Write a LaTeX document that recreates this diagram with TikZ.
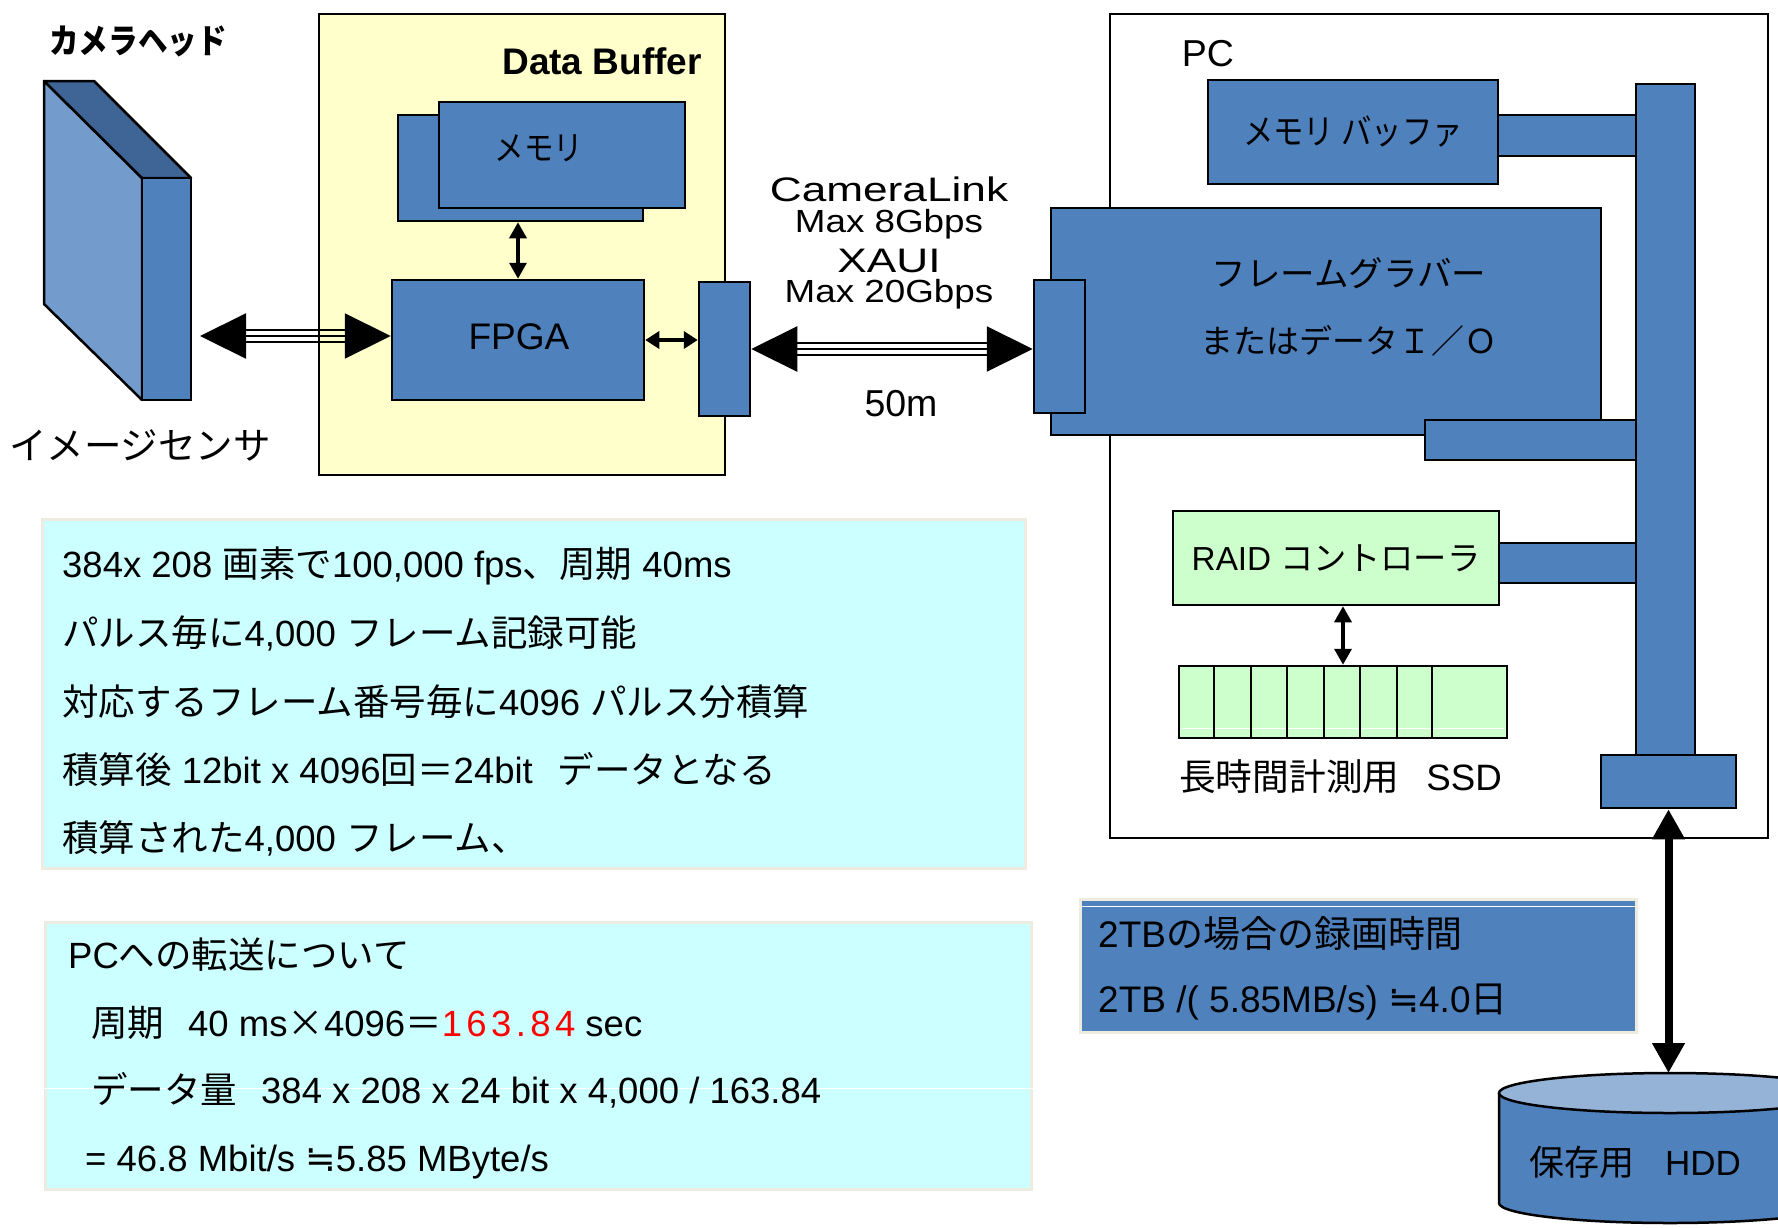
\documentclass[tikz,border=0pt]{standalone}
\usepackage{fontspec}
\setmainfont{Liberation Sans}
\newfontfamily\jp{Noto Sans CJK JP}
\newfontfamily\jpn[FakeStretch=0.87]{Noto Sans CJK JP}
\newfontfamily\sym{DejaVu Sans}
\newfontfamily\wideA[FakeStretch=1.3]{Liberation Sans}
\newfontfamily\wideB[FakeStretch=1.15]{Liberation Sans}
\newfontfamily\spaced[LetterSpace=12]{Liberation Sans}
\usetikzlibrary{arrows.meta}

\definecolor{blu}{HTML}{4F81BD}
\definecolor{bludark}{HTML}{3E6596}
\definecolor{blulight}{HTML}{739BCC}
\definecolor{bluhdd}{HTML}{95B3D7}
\definecolor{buf}{HTML}{FFFFCC}
\definecolor{grn}{HTML}{CCFFCC}
\definecolor{cyn}{HTML}{CCFFFF}
\definecolor{edge}{HTML}{EEECE1}

\newcommand\fsz[1]{\fontsize{#1}{#1}\selectfont}
\newcommand\J[1]{{\jp #1}}
\newcommand\approxeq{{\sym ≒}}

\tikzset{
  blk/.style={draw=black, line width=2.5pt, fill=blu, inner sep=0pt},
  pale/.style={draw=black, line width=2.5pt, fill=grn, inner sep=0pt},
  note/.style={draw=edge, line width=3pt, inner sep=0pt},
  txt/.style={inner sep=0pt, text=black},
  line/.style={anchor=base west, inner sep=0pt, font=\fsz{36.5}},
  small2/.style={line width=3.5pt, {Triangle[length=16pt,width=17pt]}-{Triangle[length=16pt,width=17pt]}},
  cable/.style={line width=2.2pt, {Triangle[length=46pt,width=45pt]}-{Triangle[length=46pt,width=45pt]}},
  cableside/.style={line width=2.2pt, shorten <=40pt, shorten >=40pt},
  hddlink/.style={line width=8pt, {Triangle[length=30pt,width=31pt]}-{Triangle[length=30pt,width=31pt]}}
}

\begin{document}
\begin{tikzpicture}[x=1pt,y=-1pt]
\useasboundingbox (0,0) rectangle (1778,1227);
\fill[white] (0,0) rectangle (1778,1227);
\clip (0,0) rectangle (1778,1227);

% ---------- camera head ----------
\draw[line width=2.5pt, fill=blulight, line join=round] (44,81) -- (142,178) -- (142,400) -- (44,304) -- cycle;
\draw[line width=2.5pt, fill=bludark, line join=round] (44,81) -- (94,81) -- (191,178) -- (142,178) -- cycle;
\node[blk, minimum width=49pt, minimum height=222pt] (sensor) at (166.5,289) {};
\node[txt, font=\jpn\bfseries\fsz{34}] (camlbl) at (138,41) {カメラヘッド};
\node[txt, font=\jp\fsz{37.5}] (senslbl) at (140,445) {イメージセンサ};
\coordinate (camR) at (200,336);

% ---------- data buffer ----------
\node[draw=black, line width=2.5pt, fill=buf, minimum width=406pt, minimum height=461pt] (dbuf) at (522,244.5) {};
\node[txt, anchor=base east, font=\bfseries\fsz{37}] (dbuflbl) at (702,74) {Data Buffer};
\node[blk, minimum width=245pt, minimum height=106pt] (memb) at (520.5,168) {};
\node[blk, minimum width=246pt, minimum height=106pt] (memf) at (562,155) {};
\node[txt, font=\jpn\fsz{34}] (memlbl) at (539,148) {メモリ};
\node[blk, minimum width=252pt, minimum height=120pt] (fpga) at (518,340) {};
\node[txt, font=\fsz{37}] (fpgalbl) at (519,337) {FPGA};
\node[blk, minimum width=51pt, minimum height=134pt] (dbport) at (724.5,349) {};

\draw[small2] (fpga.north) -- (fpga.north |- memb.south);
\draw[line width=3.5pt, {Triangle[length=14pt,width=17pt]}-{Triangle[length=14pt,width=17pt]}] (fpga.east) -- (fpga.east -| dbport.west);

% sensor <-> FPGA link (triple line)
\draw[cable] (camR) -- (fpga.west |- camR);
\draw[cableside, transform canvas={yshift=6pt}] (camR) -- (fpga.west |- camR);
\draw[cableside, transform canvas={yshift=-6pt}] (camR) -- (fpga.west |- camR);

% ---------- PC ----------
\node[draw=black, line width=2pt, fill=white, minimum width=658pt, minimum height=824pt] (pc) at (1439,426) {};
\node[txt, anchor=base, font=\fsz{37.5}] (pclbl) at (1208,66) {PC};
\node[blk, minimum width=290pt, minimum height=104pt, font=\jpn\fsz{35}] (mbuf) at (1353,132) {メモリ バッファ};
\node[blk, minimum width=550pt, minimum height=227pt] (fg) at (1326,321.5) {};
\node[txt, font=\jp\fsz{34.5}] (fglbl1) at (1349,273) {フレームグラバー};
\node[txt, font=\jp\fsz{33}] (fglbl2) at (1349,341) {またはデータＩ／Ｏ};
\node[blk, minimum width=51pt, minimum height=133pt] (fgport) at (1059.5,346.5) {};
\node[blk, minimum width=211pt, minimum height=40pt] (fglink) at (1530.5,440) {};
\node[blk, minimum width=138pt, minimum height=41pt] (mblink) at (1567,135.5) {};
\node[pale, minimum width=326pt, minimum height=94pt, font=\fsz{33.3}] (raid) at (1336,558) {RAID \J{コントローラ}};
\node[blk, minimum width=137pt, minimum height=40pt] (rlink) at (1567.5,563) {};
\node[blk, minimum width=59pt, minimum height=671pt] (bus) at (1665.5,419.5) {};
\node[blk, minimum width=135pt, minimum height=53pt] (busend) at (1668.5,781.5) {};

% SSD array
\node[pale, minimum width=328pt, minimum height=72pt] (ssd) at (1343,702) {};
\draw[white, line width=0.8pt] (1182,728) -- (1504,728);
\foreach \x in {1214,1251,1287,1324,1360,1397,1432}
  \draw[line width=2.5pt] (\x,0 |- ssd.north) -- (\x,0 |- ssd.south);
\node[txt, anchor=west, font=\fsz{36.7}] (ssdlbl) at (1179,777) {\J{長時間計測用}\hspace{27pt}SSD};
\draw[small2] (raid.south -| ssd.north) -- (ssd.north);

% camera link cable
\draw[cable] (dbport.east) -- (dbport.east -| fgport.west);
\draw[cableside, transform canvas={yshift=6pt}] (dbport.east) -- (dbport.east -| fgport.west);
\draw[cableside, transform canvas={yshift=-6pt}] (dbport.east) -- (dbport.east -| fgport.west);
\node[txt, anchor=north, align=center, font=\fontsize{32}{30}\selectfont] (cablelbl) at (889,177)
  {{\wideA\fsz{34}CameraLink}\\[1pt]
   {\wideB\fsz{32}Max 8Gbps}\\[9pt]
   {\wideA\fsz{34}XAUI}\\
   {\wideB\fsz{32}Max 20Gbps}};
\node[txt, anchor=base, font=\fsz{37.5}] (cablelen) at (901,416) {50m};

% ---------- storage ----------
\draw[line width=2.5pt, fill=blu] (1499,1093) -- (1499,1203) arc[start angle=180, end angle=0, x radius=171, y radius=20] -- (1841,1093);
\draw[line width=2.5pt, fill=bluhdd] (1670,1093) ellipse[x radius=171, y radius=20];
\coordinate (hddtop) at (1670,1073);
\node[txt, font=\fsz{35}] (hdd) at (1635,1162) {\J{保存用}\hspace{31pt}HDD};
\draw[hddlink] (busend.south) -- (busend.south |- hddtop);

% recording-time note
\node[note, fill=blu, minimum width=556pt, minimum height=133pt] (rec) at (1358,965.5) {};
\draw[white, line width=1.2pt] ([yshift=-9pt]rec.north west) -- ([yshift=-9pt]rec.north east);
\node[line, font=\fsz{37}] (rec1) at (1098,947) {2TB\J{の場合の録画時間}};
\node[line, font=\fsz{37}] (rec2) at (1098,1012) {2TB /( 5.85MB/s) \approxeq4.0\J{日}};

% ---------- notes ----------
\node[note, fill=cyn, minimum width=983pt, minimum height=349pt] (info) at (533.5,693.5) {};
\node[line] (i1) at (62,577) {384x 208 \J{画素で}100,000 fps\J{、周期} 40ms};
\node[line] (i2) at (62,646) {\J{パルス毎に}4,000 \J{フレーム記録可能}};
\node[line] (i3) at (62,715) {\J{対応するフレーム番号毎に}4096 \J{パルス分積算}};
\node[line] (i4) at (62,783) {\J{積算後} 12bit x 4096\J{回＝}24bit\hspace{25pt}\J{データとなる}};
\node[line] (i5) at (62,851) {\J{積算された}4,000 \J{フレーム、}};

\node[note, fill=cyn, minimum width=986pt, minimum height=267pt] (xfer) at (538,1055.5) {};
\draw[white, line width=1pt] ([yshift=-33pt]xfer.west) -- ([yshift=-33pt]xfer.east);
\node[line] (x1) at (68,968) {PC\J{への転送について}};
\node[line] (x2) at (91,1036) {\J{周期}\hspace{24pt}40 ms\J{×}4096\J{＝}{\spaced\color{red}163.84} sec};
\node[line] (x3) at (91,1103) {\J{データ量}\hspace{24pt}384 x 208 x 24 bit x 4,000 / 163.84};
\node[line] (x4) at (85,1171) {= 46.8 Mbit/s \approxeq5.85 MByte/s};
\end{tikzpicture}
\end{document}
